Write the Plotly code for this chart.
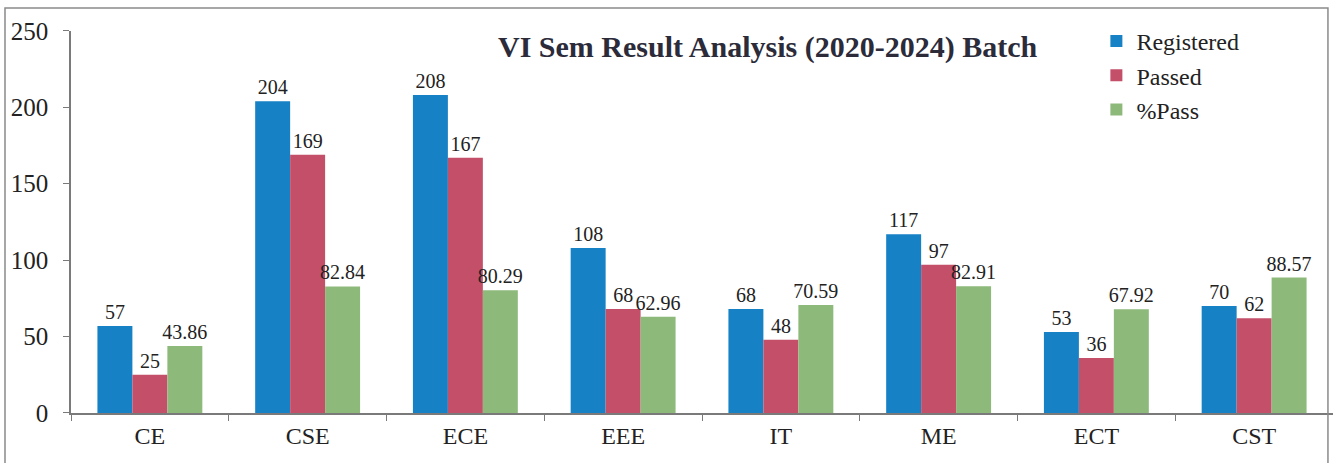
import plotly.graph_objects as go

categories = ["CE", "CSE", "ECE", "EEE", "IT", "ME", "ECT", "CST"]
registered = [57, 204, 208, 108, 68, 117, 53, 70]
passed = [25, 169, 167, 68, 48, 97, 36, 62]
pct_pass = [43.86, 82.84, 80.29, 62.96, 70.59, 82.91, 67.92, 88.57]
y_ticks = [0, 50, 100, 150, 200, 250]

series = [
    ("Registered", registered, "#1681c4"),
    ("Passed", passed, "#c44f69"),
    ("%Pass", pct_pass, "#8dba7a"),
]

SERIF = "Liberation Serif, Times New Roman, serif"

# plot area: x 71..1333, y 28..413 (px); paper area 10..413 tall
PH = 403.0
def py(px):
    return (413 - px) / PH

fig = go.Figure()
for name, vals, color in series:
    fig.add_trace(go.Bar(
        name=name, x=categories, y=vals,
        marker=dict(color=color, line=dict(width=0)),
        text=[f"{v:g}" for v in vals], textposition="outside",
        constraintext="none",
        textfont=dict(family=SERIF, size=20, color="#222222"),
        cliponaxis=False,
    ))

fig.update_layout(
    width=1333, height=463,
    margin=dict(l=71, r=0, t=10, b=50),
    paper_bgcolor="white", plot_bgcolor="white",
    barmode="group", bargap=0.335, bargroupgap=0,
    font=dict(family=SERIF, size=24, color="#222222"),
    showlegend=True,
    legend=dict(x=0.8125, y=py(16), xanchor="left", yanchor="top",
                font=dict(family=SERIF, size=24, color="#222222"),
                bgcolor="rgba(0,0,0,0)", itemwidth=30, tracegroupgap=0),
    annotations=[dict(
        text="<b>VI Sem Result Analysis (2020-2024) Batch</b>",
        xref="paper", yref="paper", x=0.552, y=py(44),
        xanchor="center", yanchor="middle", showarrow=False,
        font=dict(family=SERIF, size=30, color="#2b2b3a"),
    )],
    shapes=[dict(type="rect", xref="paper", yref="paper",
                 x0=-0.0523, x1=0.996, y0=-0.2, y1=py(5),
                 line=dict(color="#8a8a8a", width=1.5))],
)
fig.update_xaxes(showline=True, linecolor="#7a7a7a", linewidth=1.5,
                 ticks="outside", tickson="boundaries", ticklen=6,
                 tickcolor="#7a7a7a", showgrid=False,
                 tickfont=dict(family=SERIF, size=24, color="#222222"))
fig.update_yaxes(range=[0, 250], tickvals=y_ticks, showline=True,
                 domain=[0, 385 / PH], ticklabelstandoff=10,
                 linecolor="#7a7a7a", linewidth=1.5, ticks="outside",
                 ticklen=6, tickcolor="#7a7a7a", showgrid=False, zeroline=False,
                 tickfont=dict(family=SERIF, size=25, color="#222222"))

fig.write_html("out.html", config={"displayModeBar": False},
               post_script="document.body.style.margin='0';document.body.style.padding='0';")
